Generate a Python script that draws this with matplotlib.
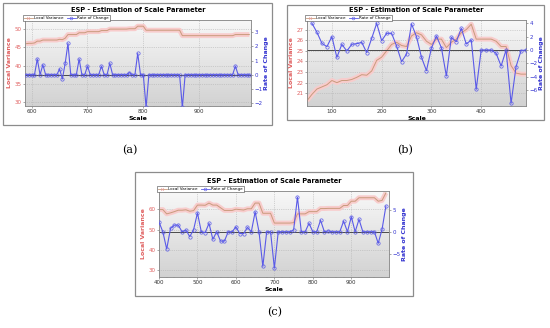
import numpy as np
import matplotlib.pyplot as plt
from matplotlib.patches import Rectangle
from matplotlib.lines import Line2D
from matplotlib.colors import LinearSegmentedColormap
from matplotlib.ticker import AutoMinorLocator

# ---- panel (a): scale 590..990, step 5
a_scale = list(range(590, 995, 5))
a_lv = [46.0, 46.1, 46.1, 46.2, 46.7, 46.7, 47.0, 47.0, 47.0, 47.0,
        47.0, 47.0, 47.2, 47.1, 47.5, 48.5, 48.5, 48.5, 48.5, 49.0,
        49.0, 49.0, 49.3, 49.3, 49.3, 49.3, 49.3, 49.6, 49.6, 49.6,
        50.0, 50.0, 50.0, 50.0, 50.0, 50.0, 50.0, 50.1, 50.1, 50.1,
        50.8, 50.8, 50.8, 49.7, 49.7, 49.7, 49.7, 49.7, 49.7, 49.7,
        49.7, 49.7, 49.7, 49.7, 49.7, 49.7, 48.2, 48.2, 48.2, 48.2,
        48.2, 48.2, 48.2, 48.2, 48.2, 48.2, 48.2, 48.2, 48.2, 48.2,
        48.2, 48.2, 48.2, 48.2, 48.2, 48.5, 48.5, 48.5, 48.5, 48.5,
        48.5]
a_roc = [0, 0, 0, 0, 1.1, 0, 0.7, 0, 0, 0,
         0, 0, 0.4, -0.3, 0.8, 2.2, 0, 0, 0, 1.1,
         0, 0, 0.6, 0, 0, 0, 0, 0.6, 0, 0,
         0.8, 0, 0, 0, 0, 0, 0, 0.15, 0, 0,
         1.5, 0, 0, -2.3, 0, 0, 0, 0, 0, 0,
         0, 0, 0, 0, 0, 0, -2.3, 0, 0, 0,
         0, 0, 0, 0, 0, 0, 0, 0, 0, 0,
         0, 0, 0, 0, 0, 0.6, 0, 0, 0, 0,
         0]

# ---- panel (b): scale 50..490, step 10
b_scale = list(range(50, 500, 10))
b_lv = [20.3, 20.9, 21.4, 21.6, 21.8, 22.2, 22.0, 22.2, 22.2, 22.3,
        22.5, 22.75, 22.7, 23.1, 24.1, 24.4, 25.0, 25.6, 25.8, 25.5,
        25.4, 26.4, 26.7, 26.5, 25.9, 25.6, 26.1, 26.1, 25.3, 25.8,
        26.1, 26.7, 27.0, 27.5, 26.1, 26.1, 26.1, 26.1, 25.9, 25.4,
        25.4, 23.6, 22.9, 22.8, 22.8]
b_roc = [4.0, 2.65, 1.0, 0.5, 2.0, -1.1, 0.85, -0.15, 0.85,
         0.95, 1.15, -0.4, 1.75, 4.0, 1.4, 2.5, 2.5, 0.6, -1.75,
         -0.6, 3.9, 2.0, -1.1, -3.1, 0.3, 2.1, 0.35, -3.9, 1.9,
         1.25, 3.25, 0.9, 1.5, -5.9, 0, 0, 0, -0.5, -2.4,
         0, -8.0, -2.5, -0.1, 0]

# ---- panel (c): scale 400..990, step 10
c_scale = list(range(400, 1000, 10))
c_lv = [59.8, 59.8, 57.7, 58.2, 58.8, 59.5, 59.5, 59.7, 59.0, 59.3,
        62.0, 62.0, 61.9, 63.0, 62.0, 62.0, 60.7, 59.4, 59.4, 59.4,
        60.0, 59.8, 59.6, 60.2, 60.2, 63.0, 63.0, 58.0, 58.0, 58.0,
        53.2, 53.2, 53.2, 53.2, 53.2, 53.4, 57.7, 57.7, 57.7, 58.8,
        58.8, 58.8, 60.3, 60.3, 60.4, 60.4, 60.4, 60.4, 61.8, 61.8,
        63.9, 63.9, 65.6, 65.6, 65.6, 65.6, 65.6, 63.9, 64.3, 68.0]
c_roc = [2.2, 0, -3.9, 0.75, 1.5, 1.5, 0, 0.4, -1.1, 0.5,
         4.25, 0, -0.2, 1.9, -1.7, 0, -2.1, -2.1, 0, 0,
         1.1, -0.4, -0.4, 1.0, 0, 4.5, 0, -7.8, 0, 0,
         -8.2, 0, 0, 0, 0, 0.4, 7.8, 0, 0, 1.9,
         0, 0, 2.6, 0, 0.2, 0, 0, 0, 2.4, 0,
         3.4, 0, 2.8, 0, 0, 0, 0, -2.6, 0.6, 5.8]

LV_COLOR = '#c99a7c'
LV_BAND = '#f8cccc'
ROC_COLOR = '#5a5ae8'
LEFT_TXT = '#e06060'
RIGHT_TXT = '#3434d0'

W, H = 550, 328
fig = plt.figure(figsize=(W / 100, H / 100), dpi=100)
bg = LinearSegmentedColormap.from_list('bg', ['#f8f8f8', '#d2d2d2'])
grad = np.linspace(0, 1, 256).reshape(-1, 1)


def px_rect(x0, y0, x1, y1):
    return [x0 / W, 1 - y1 / H, (x1 - x0) / W, (y1 - y0) / H]


def panel(frame, area, x, lv, roc_x, roc, xlim, lv_lim, roc_lim,
          lv_ticks, roc_ticks, x_ticks, caption, cap_xy):
    l, b, w, h = px_rect(*frame)
    fig.patches.append(Rectangle((l, b), w, h, transform=fig.transFigure,
                                 facecolor='white', edgecolor='#8c8c8c',
                                 lw=0.9, zorder=-5))
    ax = fig.add_axes(px_rect(*area))
    ax.imshow(grad, cmap=bg, extent=[0, 1, 0, 1], transform=ax.transAxes,
              aspect='auto', zorder=0)
    ax.plot(x, lv, color=LV_BAND, lw=3.5, solid_capstyle='butt', zorder=2)
    ax.plot(x, lv, color=LV_COLOR, lw=0.7, zorder=3)
    ax.set_xlim(xlim)
    ax.set_ylim(lv_lim)
    ax.set_xticks(x_ticks)
    ax.set_yticks(lv_ticks)
    ax.xaxis.set_minor_locator(AutoMinorLocator(5))
    ax.grid(True, color='#b0b0b0', ls=':', lw=0.5)
    ax.tick_params(labelsize=4, length=1.5, width=0.4, pad=1,
                   colors='#666666', labelcolor='#333333')
    ax.tick_params(which='minor', length=1, width=0.3, colors='#666666')
    ax.tick_params(axis='y', labelcolor=LEFT_TXT)
    ax.set_xlabel('Scale', fontsize=4.5, fontweight='bold', labelpad=1)
    ax.set_ylabel('Local Variance', fontsize=4.5, fontweight='bold',
                  color=LEFT_TXT, labelpad=2)
    ax.set_title('ESP - Estimation of Scale Parameter', fontsize=4.8,
                 fontweight='bold', pad=6)

    ax2 = ax.twinx()
    ax2.axhline(0, color='#4a4a4a', lw=0.7, zorder=1)
    ax2.plot(roc_x, roc, color=ROC_COLOR, lw=0.8, marker='o', ms=2.4,
             mfc='none', mew=0.5, zorder=4)
    ax2.set_xlim(xlim)
    ax2.set_ylim(roc_lim)
    ax2.set_yticks(roc_ticks)
    ax2.tick_params(labelsize=4, length=1.5, width=0.4, pad=1,
                    colors='#666666', labelcolor=RIGHT_TXT)
    ax2.set_ylabel('Rate of Change', fontsize=4.5, fontweight='bold',
                   color=RIGHT_TXT, labelpad=1)
    for a in (ax, ax2):
        for s in a.spines.values():
            s.set_color('#8a8a8a')
            s.set_linewidth(0.5)

    handles = [Line2D([0], [0], color=LV_COLOR, lw=0.6, marker='x', ms=2,
                      mec='#e89a9a', mew=0.4),
               Line2D([0], [0], color=ROC_COLOR, lw=0.6, marker='o', ms=2,
                      mfc='none', mew=0.4)]
    leg = ax2.legend(handles, ['Local Variance', 'Rate of Change'],
                     loc='lower left', bbox_to_anchor=(-0.01, 0.99), ncol=2,
                     fontsize=3.0, frameon=True, fancybox=False,
                     edgecolor='#444444', framealpha=1, borderpad=0.2,
                     handlelength=2.2, handletextpad=0.3, columnspacing=0.8,
                     borderaxespad=0)
    leg.get_frame().set_linewidth(0.4)

    fig.text(cap_xy[0] / W, 1 - cap_xy[1] / H, caption, ha='center',
             va='center', fontsize=8, family='DejaVu Serif')


panel((3, 3, 272, 125), (25, 20, 251, 106), a_scale, a_lv, a_scale, a_roc,
      (588, 993), (28.9, 52.5), (-2.2, 3.85), [30, 35, 40, 45, 50],
      [-2, -1, 0, 1, 2, 3], [600, 700, 800, 900], '(a)', (130, 150))

panel((287, 5, 544, 120), (307, 20, 526, 106), b_scale, b_lv, b_scale[1:],
      b_roc, (50, 490), (19.8, 27.9), (-8.4, 4.5),
      [21, 22, 23, 24, 25, 26, 27], [-6, -4, -2, 0, 2, 4],
      [100, 200, 300, 400], '(b)', (405, 150))

panel((135, 172, 413, 296), (159, 191, 389, 277), c_scale, c_lv, c_scale,
      c_roc, (400, 998), (26.8, 68.9), (-10.2, 9.2), [30, 40, 50, 60],
      [-5, 0, 5], [400, 500, 600, 700, 800, 900], '(c)', (275, 312))

fig.savefig('out.png', dpi=100)
